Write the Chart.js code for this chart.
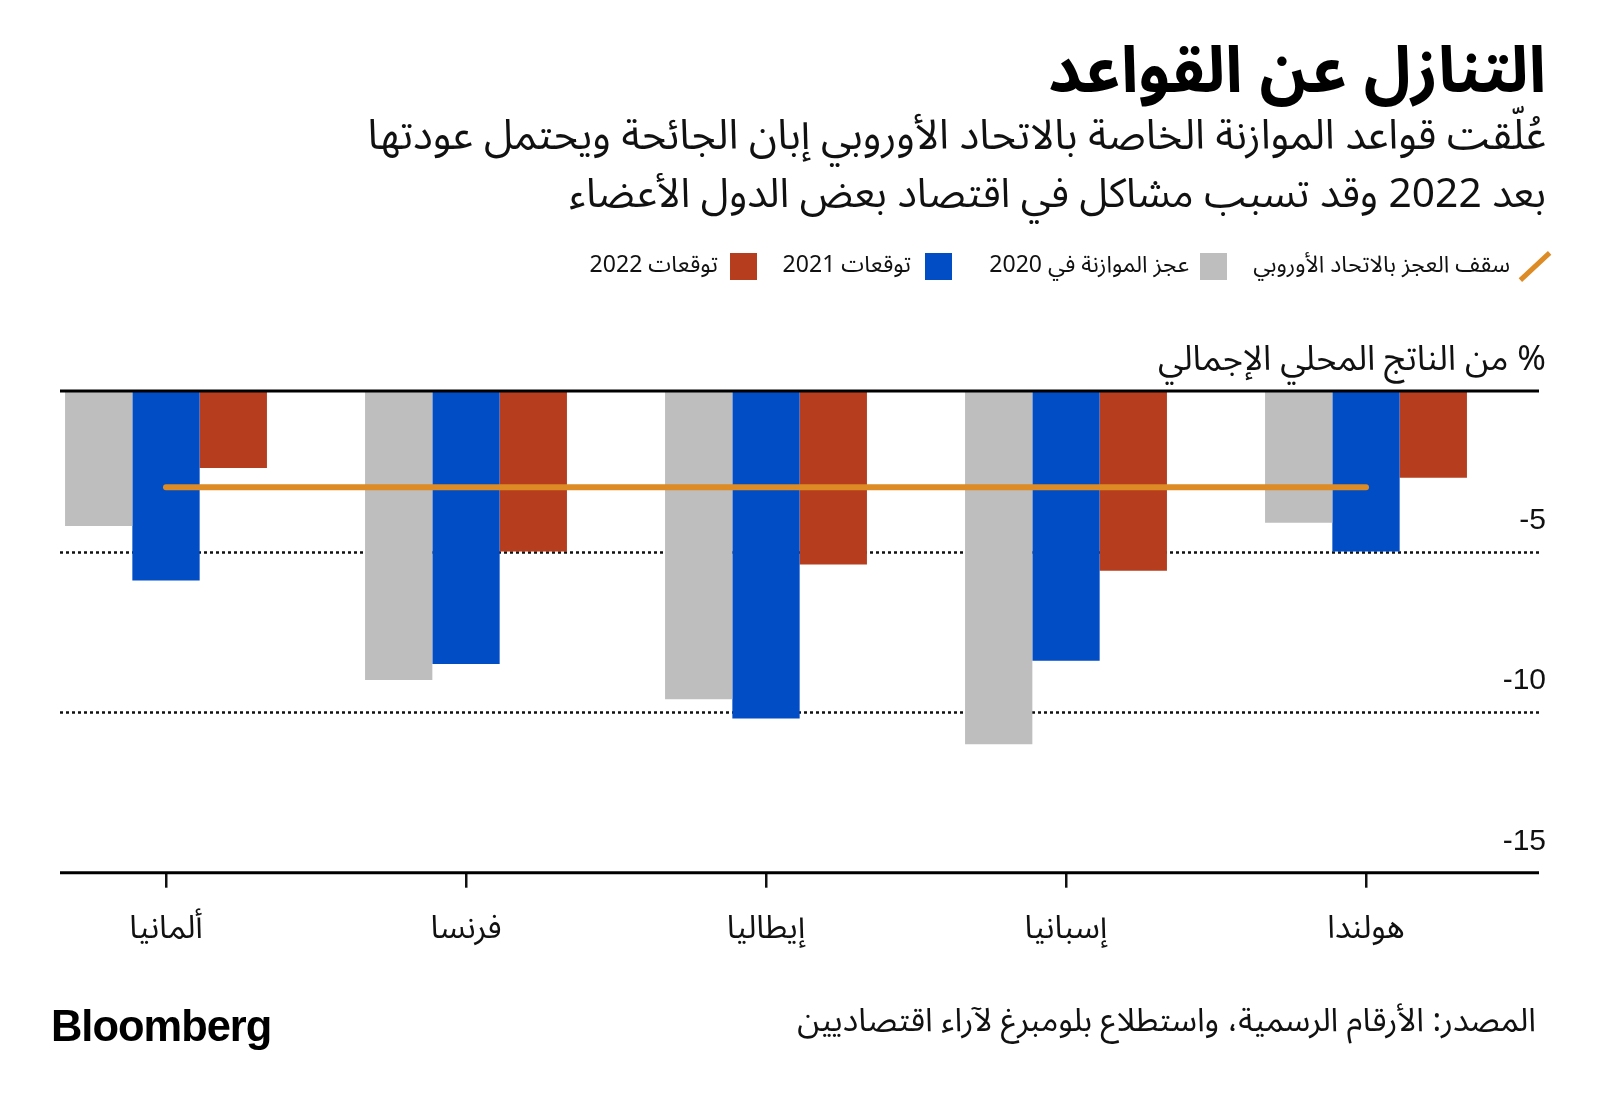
<!DOCTYPE html>
<html lang="ar">
<head>
<meta charset="utf-8">
<script src="https://cdn.jsdelivr.net/npm/chart.js@4.4.0/dist/chart.umd.min.js"></script>
<style>
html,body{margin:0;padding:0;background:#fff;}
body{width:1600px;height:1106px;position:relative;overflow:hidden;font-family:"Noto Sans Arabic","DejaVu Sans",sans-serif;color:#111;}
#c{position:absolute;left:0;top:0;}
.t{position:absolute;white-space:nowrap;direction:rtl;line-height:1;}
.sw{position:absolute;width:27px;height:27px;}
#bb{position:absolute;white-space:nowrap;font-family:"Liberation Sans",Arial,sans-serif;font-weight:bold;line-height:1;color:#000;letter-spacing:-1px;}
</style>
</head>
<body>
<canvas id="c" width="1600" height="1106"></canvas>

<div class="t" id="title" style="font-weight:bold;color:#000">التنازل عن القواعد</div>
<div class="t" id="sub1">عُلّقت قواعد الموازنة الخاصة بالاتحاد الأوروبي إبان الجائحة ويحتمل عودتها</div>
<div class="t" id="sub2">بعد 2022 وقد تسبب مشاكل في اقتصاد بعض الدول الأعضاء</div>

<div id="legLine" style="position:absolute;left:1515px;top:264px;width:40px;height:5px;background:#dc8b25;transform:rotate(-43deg);"></div>
<div class="t" id="lg0">سقف العجز بالاتحاد الأوروبي</div>
<div class="sw" style="left:1200px;top:253px;background:#bebebe"></div>
<div class="t" id="lg1">عجز الموازنة في 2020</div>
<div class="sw" style="left:925px;top:253px;background:#004dc6"></div>
<div class="t" id="lg2">توقعات 2021</div>
<div class="sw" style="left:730px;top:253px;background:#b63e1e"></div>
<div class="t" id="lg3">توقعات 2022</div>

<div class="t" id="ytitle">% من الناتج المحلي الإجمالي</div>

<div class="t" id="footer">المصدر: الأرقام الرسمية، واستطلاع بلومبرغ لآراء اقتصاديين</div>
<div id="bb">Bloomberg</div>

<script>
// ---- data ----
const categories = ['ألمانيا', 'فرنسا', 'إيطاليا', 'إسبانيا', 'هولندا'];
const deficit2020 = [-4.2, -9.0, -9.6, -11.0, -4.1];
const forecast2021 = [-5.9, -8.5, -10.2, -8.4, -5.0];
const forecast2022 = [-2.4, -5.0, -5.4, -5.6, -2.7];
const euLimit = [-3, -3, -3, -3, -3];
const yTicks = [0, -5, -10, -15];
const seriesNames = ['سقف العجز بالاتحاد الأوروبي', 'عجز الموازنة في 2020', 'توقعات 2021', 'توقعات 2022'];

// ---- text layout ----
function place(id, right, cy, width, base, fixedSize) {
  const el = document.getElementById(id);
  let fs = base;
  el.style.fontSize = base + 'px';
  if (!fixedSize) {
    const w = el.getBoundingClientRect().width;
    fs = base * width / w;
    el.style.fontSize = fs + 'px';
  }
  el.style.right = (1600 - right) + 'px';
  el.style.top = (cy - fs / 2) + 'px';
  return fs;
}
place('title', 1546, 72, 498, 60);
place('sub1', 1546, 137, 1179, 36);
place('sub2', 1546, 194, 977, 36);
const lfs = place('lg0', 1510, 265, 257, 22);
place('lg1', 1189, 265, 0, lfs, true);
place('lg2', 911, 265, 0, lfs, true);
place('lg3', 718, 265, 0, lfs, true);
place('ytitle', 1546, 359, 388, 30);
place('footer', 1536, 1021, 739, 28);
(function(){
  const el = document.getElementById('bb');
  el.style.fontSize = '42px';
  const w = el.getBoundingClientRect().width;
  const fs = 42 * 220 / w;
  el.style.fontSize = fs + 'px';
  el.style.left = '51px';
  el.style.top = (1027 - fs / 2) + 'px';
})();

// ---- chart ----
const LINE_LEFT = 60, LINE_RIGHT = 1539;
const axisLines = {
  id: 'axisLines',
  beforeDatasetsDraw(chart) {
    const y = chart.scales.y, c = chart.ctx;
    c.save();
    c.strokeStyle = '#111';
    c.lineWidth = 2.5;
    c.setLineDash([3, 3]);
    yTicks.filter(v => v !== y.max && v !== y.min).forEach(v => {
      const py = Math.round(y.getPixelForValue(v)) + 0.5;
      c.beginPath(); c.moveTo(LINE_LEFT, py); c.lineTo(LINE_RIGHT, py); c.stroke();
    });
    c.restore();
  },
  afterDatasetsDraw(chart) {
    const y = chart.scales.y, c = chart.ctx;
    c.save();
    c.strokeStyle = '#000';
    c.lineWidth = 3;
    [y.max, y.min].forEach(v => {
      const py = y.getPixelForValue(v);
      c.beginPath(); c.moveTo(LINE_LEFT, py); c.lineTo(LINE_RIGHT, py); c.stroke();
    });
    c.restore();
  }
};

new Chart(document.getElementById('c'), {
  type: 'bar',
  data: {
    labels: categories,
    datasets: [
      { type: 'line', label: seriesNames[0], data: euLimit, borderColor: '#dc8b25', borderWidth: 6,
        borderCapStyle: 'round', pointRadius: 0, fill: false, order: 0 },
      { label: seriesNames[1], data: deficit2020, backgroundColor: '#bebebe', order: 1 },
      { label: seriesNames[2], data: forecast2021, backgroundColor: '#004dc6', order: 1 },
      { label: seriesNames[3], data: forecast2022, backgroundColor: '#b63e1e', order: 1 }
    ]
  },
  options: {
    responsive: false,
    animation: false,
    events: [],
    layout: { padding: { left: 16, right: 54, top: 391, bottom: 133.3 } },
    plugins: { legend: { display: false }, tooltip: { enabled: false } },
    datasets: { bar: { categoryPercentage: 0.673, barPercentage: 1.0 } },
    scales: {
      x: {
        offset: true,
        grid: { display: true, drawOnChartArea: false, drawTicks: true, tickLength: 15,
                color: '#111', lineWidth: 2.5, offset: false },
        border: { display: false },
        ticks: { font: { family: '"Noto Sans Arabic","DejaVu Sans",sans-serif', size: 32 }, color: '#111', padding: 26, maxRotation: 0 },
        afterFit: s => { s.height = 100; }
      },
      y: {
        position: 'right',
        min: -15, max: 0,
        afterBuildTicks: s => { s.ticks = yTicks.map(v => ({ value: v })); },
        grid: { display: false, drawTicks: false },
        border: { display: false },
        ticks: {
          callback: v => (v === 0 ? '' : String(v)),
          font: { family: '"Liberation Sans",Arial,sans-serif', size: 30 },
          color: '#111', labelOffset: -31, mirror: true, crossAlign: 'near', padding: 30
        },
        afterFit: s => { s.width = 30; }
      }
    }
  },
  plugins: [axisLines]
});
</script>
</body>
</html>
